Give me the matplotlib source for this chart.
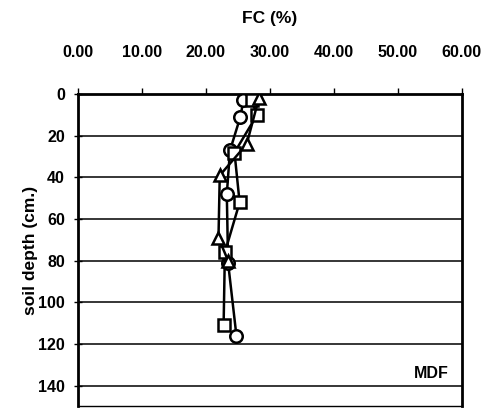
import matplotlib.pyplot as plt

plt.rcParams['font.family'] = ['Liberation Sans', 'DejaVu Sans']

# field capacity (%) against soil depth (cm), three profiles
circle_fc = [25.9, 25.4, 23.8, 23.3, 23.5, 24.8]
circle_depth = [3, 11, 27, 48, 81, 116]
square_fc = [27.2, 28.0, 24.5, 25.3, 23.0, 22.8]
square_depth = [3, 10, 28, 52, 76, 111]
triangle_fc = [28.3, 26.4, 22.2, 22.0, 23.5]
triangle_depth = [2, 24, 39, 69, 80]

x_ticks = [0, 10, 20, 30, 40, 50, 60]
y_ticks = [0, 20, 40, 60, 80, 100, 120, 140]

fig = plt.figure(figsize=(4.94, 4.08), dpi=100)
ax = fig.add_axes([0.157, 0.004, 0.778, 0.765])

for fc, depth, mk in [(circle_fc, circle_depth, 'o'),
                      (square_fc, square_depth, 's'),
                      (triangle_fc, triangle_depth, '^')]:
    ax.plot(fc, depth, color='black', lw=1.8, marker=mk, ms=9,
            mfc='white', mec='black', mew=1.8, zorder=3)

ax.set_xlim(0, 60)
ax.set_ylim(150, 0)
ax.set_xticks(x_ticks)
ax.set_xticklabels([f'{v:.2f}' for v in x_ticks], fontsize=11.5, fontweight='bold')
ax.set_yticks(y_ticks)
ax.set_yticklabels([str(v) for v in y_ticks], fontsize=11.5, fontweight='bold')
ax.xaxis.tick_top()
ax.tick_params(axis='x', direction='out', length=4, width=1, pad=21)
ax.tick_params(axis='y', direction='inout', length=6, width=1, pad=6)

ax.yaxis.grid(True, color='black', lw=1.1)
ax.set_axisbelow(True)

for side in ['left', 'right', 'top']:
    ax.spines[side].set_linewidth(2)
ax.spines['bottom'].set_linewidth(1)

fig.text(0.545, 1 - 19 / 408, 'FC (%)', ha='center', va='center',
         fontsize=12.5, fontweight='bold')
ax.set_ylabel('soil depth (cm.)', fontsize=12.5, fontweight='bold', labelpad=0)
ax.text(58, 134, 'MDF', ha='right', va='center', fontsize=11.5, fontweight='bold')

fig.savefig('out.png', dpi=100)
